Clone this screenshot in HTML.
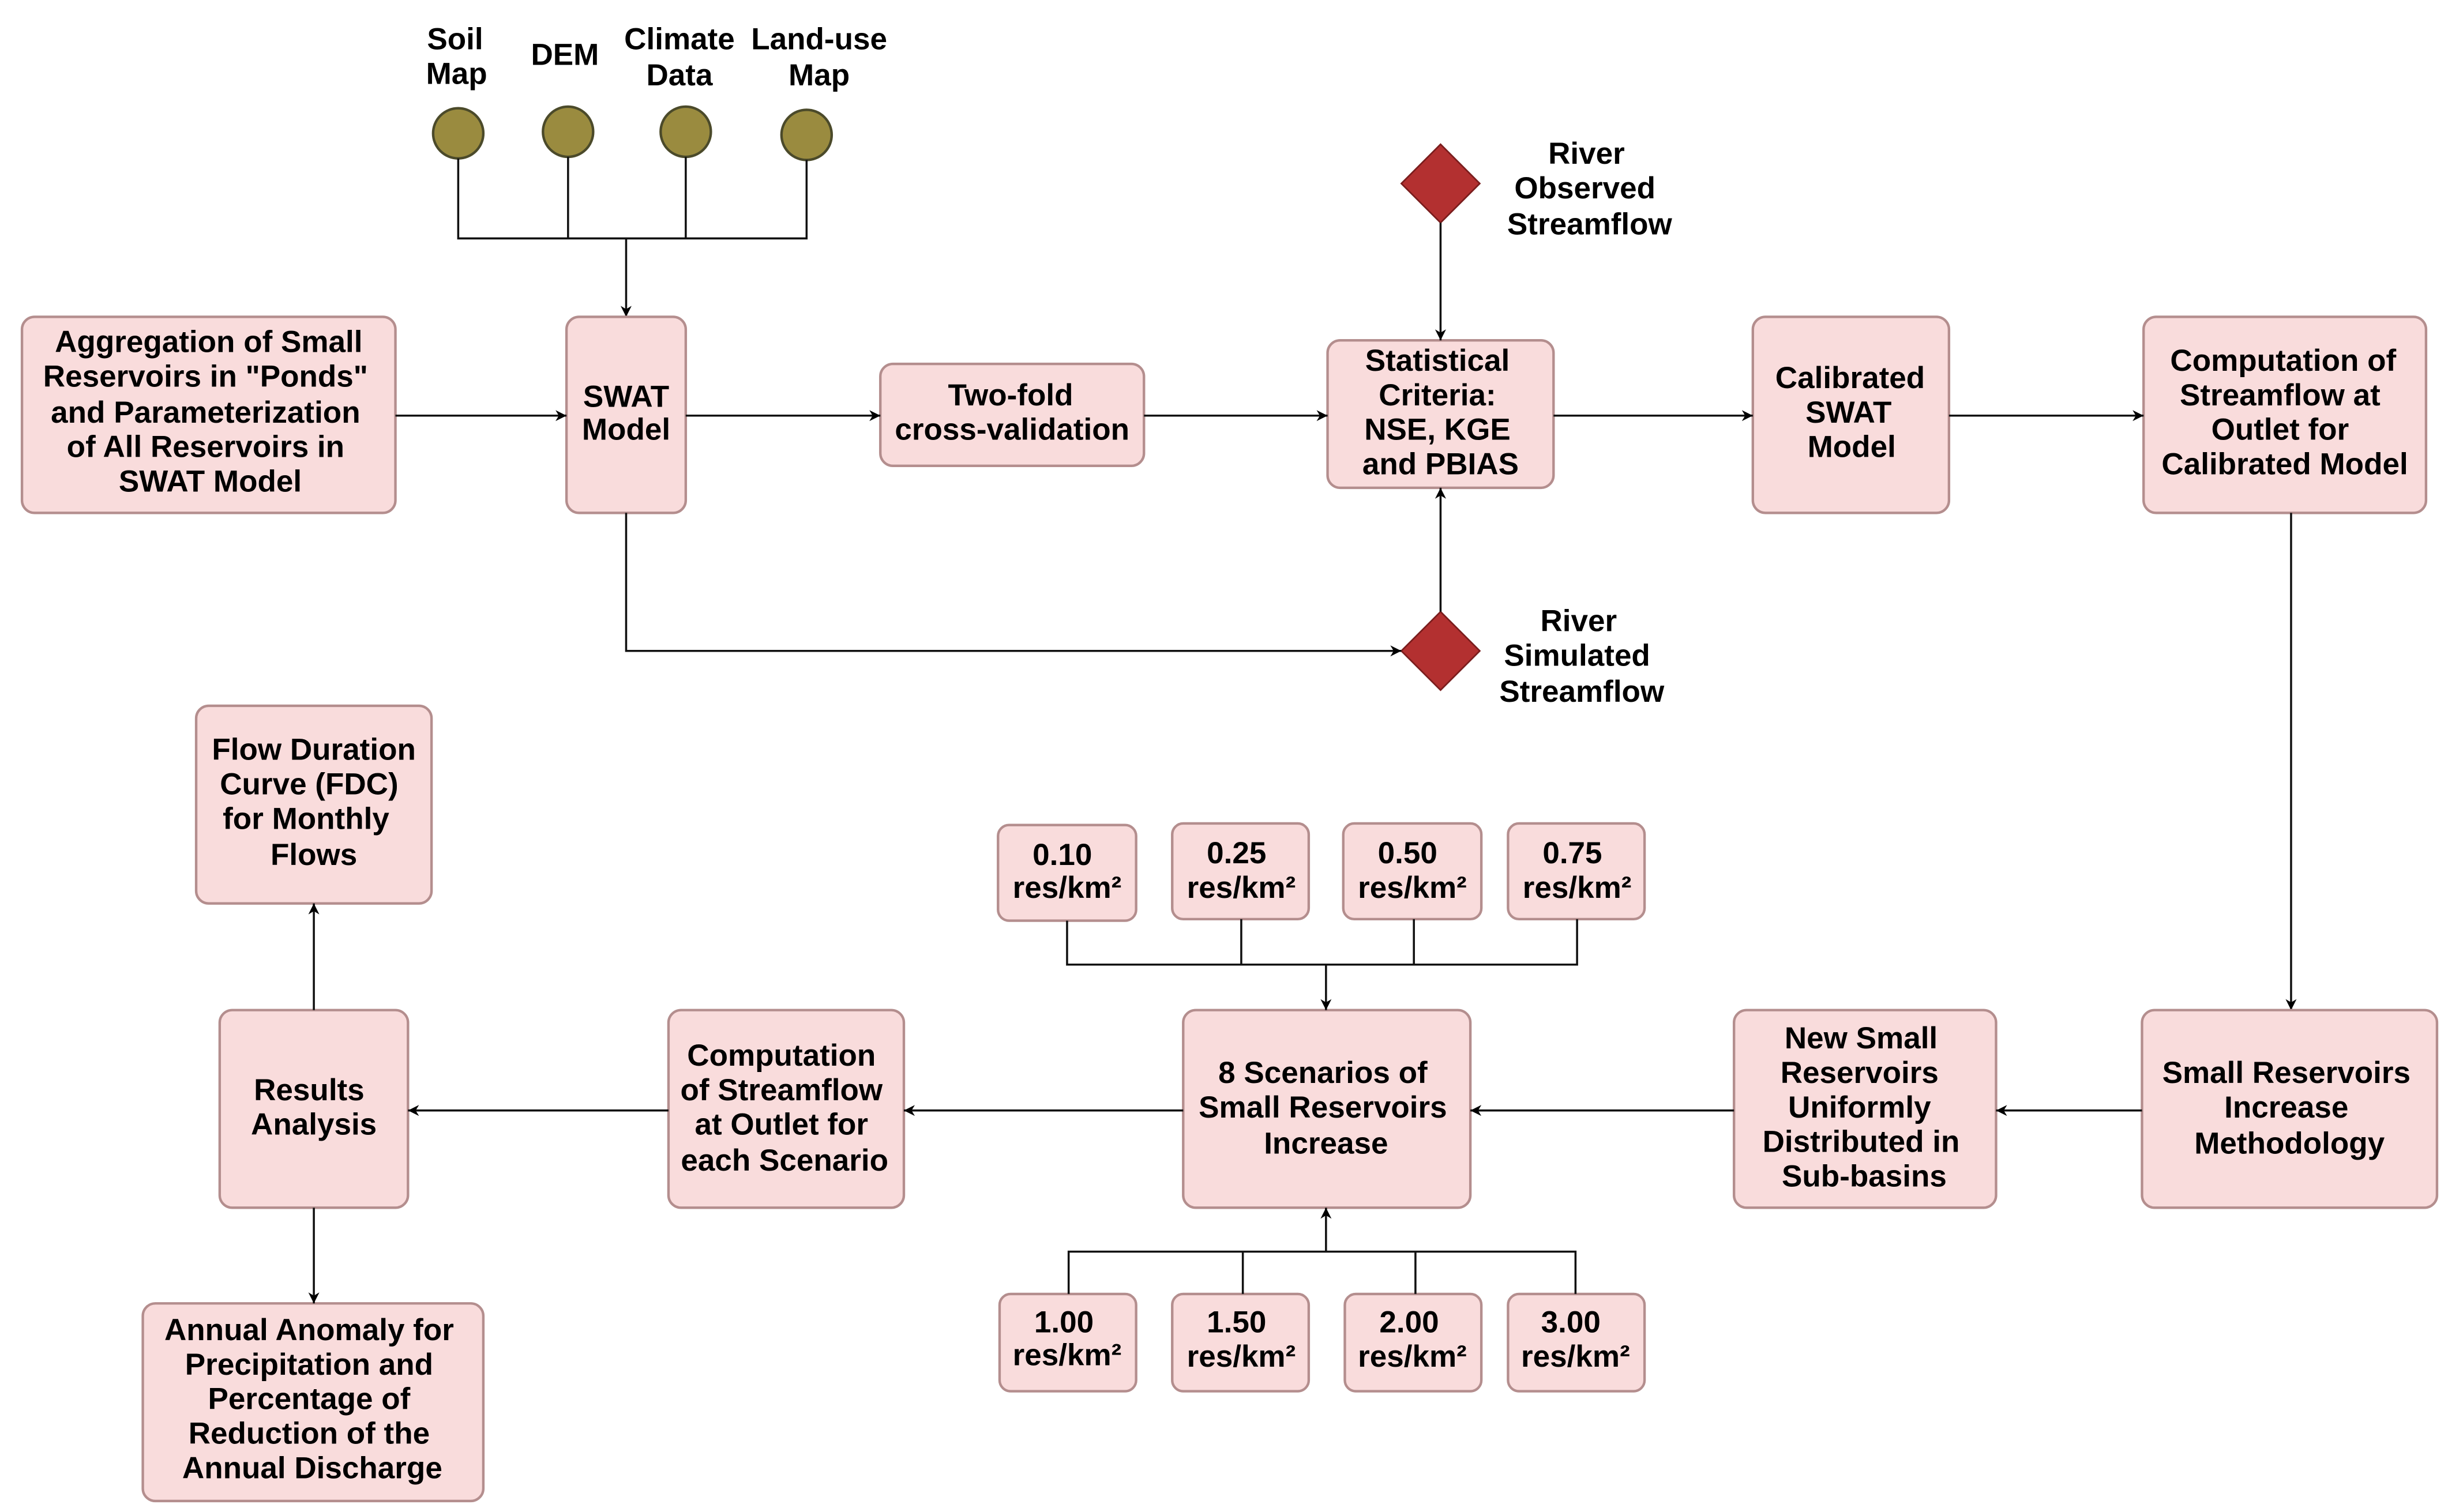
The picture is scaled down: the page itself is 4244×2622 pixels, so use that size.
<!DOCTYPE html>
<html><head><meta charset="utf-8"><style>
html,body{margin:0;padding:0;background:#fff;}
svg{display:block;}
text{font-family:"Liberation Sans",Arial,sans-serif;font-weight:bold;font-size:19.5px;fill:#000;text-anchor:middle;dominant-baseline:central;}
.b{fill:#f9dcdc;stroke:#b48e8e;stroke-width:1.6;}
.l{stroke:#111;stroke-width:1.3;fill:none;}
</style></head><body>
<svg width="4244" height="2622" viewBox="0 0 1560 964" preserveAspectRatio="none" xmlns="http://www.w3.org/2000/svg">
<defs><marker id="a" viewBox="0 0 10 10" refX="10" refY="5" markerWidth="7" markerHeight="7" orient="auto" markerUnits="userSpaceOnUse"><path d="M0,0 L10,5 L0,10 L3,5 z" fill="#000"/></marker></defs>

<!-- inputs -->
<text x="290" y="25">Soil</text><text x="291" y="47">Map</text>
<text x="360" y="35">DEM</text>
<text x="433" y="25">Climate</text><text x="433" y="48">Data</text>
<text x="522" y="25">Land-use</text><text x="522" y="48">Map</text>
<g fill="#9a8b3f" stroke="#4b4a2a" stroke-width="1.6">
<circle cx="292" cy="85" r="16"/><circle cx="362" cy="84" r="16"/><circle cx="437" cy="84" r="16"/><circle cx="514" cy="86" r="16"/></g>
<path class="l" d="M292,101V152H514V102M362,100V152M437,100V152"/>
<path class="l" d="M399,152V202" marker-end="url(#a)"/>

<!-- row 1 -->
<rect class="b" x="14" y="202" width="238" height="125" rx="8"/>
<text x="133" y="218">Aggregation of Small</text><text x="131" y="240">Reservoirs in "Ponds"</text><text x="131" y="263">and Parameterization</text><text x="131" y="285">of All Reservoirs in</text><text x="134" y="307">SWAT Model</text>
<rect class="b" x="361" y="202" width="76" height="125" rx="8"/>
<text x="399" y="253">SWAT</text><text x="399" y="274">Model</text>
<rect class="b" x="561" y="232" width="168" height="65" rx="8"/>
<text x="644" y="252">Two-fold</text><text x="645" y="274">cross-validation</text>
<rect class="b" x="846" y="217" width="144" height="94" rx="8"/>
<text x="916" y="230">Statistical</text><text x="916" y="252">Criteria:</text><text x="916" y="274">NSE, KGE</text><text x="918" y="296">and PBIAS</text>
<rect class="b" x="1117" y="202" width="125" height="125" rx="8"/>
<text x="1179" y="241">Calibrated</text><text x="1178" y="263">SWAT</text><text x="1180" y="285">Model</text>
<rect class="b" x="1366" y="202" width="180" height="125" rx="8"/>
<text x="1455" y="230">Computation of</text><text x="1453" y="252">Streamflow at</text><text x="1453" y="274">Outlet for</text><text x="1456" y="296">Calibrated Model</text>

<path class="l" d="M252,265H361" marker-end="url(#a)"/>
<path class="l" d="M437,265H561" marker-end="url(#a)"/>
<path class="l" d="M729,265H846" marker-end="url(#a)"/>
<path class="l" d="M990,265H1117" marker-end="url(#a)"/>
<path class="l" d="M1242,265H1366" marker-end="url(#a)"/>

<!-- diamonds -->
<polygon points="918,92 943,117 918,142 893,117" fill="#b33030" stroke="#7a1d1d" stroke-width="1"/>
<text x="1011" y="98">River</text><text x="1010" y="120">Observed</text><text x="1013" y="143">Streamflow</text>
<path class="l" d="M918,142V217" marker-end="url(#a)"/>
<polygon points="918,390 943,415 918,440 893,415" fill="#b33030" stroke="#7a1d1d" stroke-width="1"/>
<text x="1006" y="396">River</text><text x="1005" y="418">Simulated</text><text x="1008" y="441">Streamflow</text>
<path class="l" d="M918,390V311" marker-end="url(#a)"/>
<path class="l" d="M399,327V415H893" marker-end="url(#a)"/>

<path class="l" d="M1460,327V644" marker-end="url(#a)"/>

<!-- row 2 -->
<rect class="b" x="1365" y="644" width="188" height="126" rx="8"/>
<text x="1457" y="684">Small Reservoirs</text><text x="1457" y="706">Increase</text><text x="1459" y="729">Methodology</text>
<rect class="b" x="1105" y="644" width="167" height="126" rx="8"/>
<text x="1186" y="662">New Small</text><text x="1185" y="684">Reservoirs</text><text x="1185" y="706">Uniformly</text><text x="1186" y="728">Distributed in</text><text x="1188" y="750">Sub-basins</text>
<rect class="b" x="754" y="644" width="183" height="126" rx="8"/>
<text x="843" y="684">8 Scenarios of</text><text x="843" y="706">Small Reservoirs</text><text x="845" y="729">Increase</text>
<rect class="b" x="426" y="644" width="150" height="126" rx="8"/>
<text x="498" y="673">Computation</text><text x="498" y="695">of Streamflow</text><text x="498" y="717">at Outlet for</text><text x="500" y="740">each Scenario</text>
<rect class="b" x="140" y="644" width="120" height="126" rx="8"/>
<text x="197" y="695">Results</text><text x="200" y="717">Analysis</text>
<rect class="b" x="125" y="450" width="150" height="126" rx="8"/>
<text x="200" y="478">Flow Duration</text><text x="197" y="500">Curve (FDC)</text><text x="195" y="522">for Monthly</text><text x="200" y="545">Flows</text>
<rect class="b" x="91" y="831" width="217" height="126" rx="8"/>
<text x="197" y="848">Annual Anomaly for</text><text x="197" y="870">Precipitation and</text><text x="197" y="892">Percentage of</text><text x="197" y="914">Reduction of the</text><text x="199" y="936">Annual Discharge</text>

<path class="l" d="M1365,708H1272" marker-end="url(#a)"/>
<path class="l" d="M1105,708H937" marker-end="url(#a)"/>
<path class="l" d="M754,708H576" marker-end="url(#a)"/>
<path class="l" d="M426,708H260" marker-end="url(#a)"/>
<path class="l" d="M200,644V576" marker-end="url(#a)"/>
<path class="l" d="M200,770V831" marker-end="url(#a)"/>

<!-- small boxes top -->
<g>
<rect class="b" x="636" y="526" width="88" height="61" rx="7"/><text x="677" y="545">0.10</text><text x="680" y="566">res/km²</text>
<rect class="b" x="747" y="525" width="87" height="61" rx="7"/><text x="788" y="544">0.25</text><text x="791" y="566">res/km²</text>
<rect class="b" x="856" y="525" width="88" height="61" rx="7"/><text x="897" y="544">0.50</text><text x="900" y="566">res/km²</text>
<rect class="b" x="961" y="525" width="87" height="61" rx="7"/><text x="1002" y="544">0.75</text><text x="1005" y="566">res/km²</text>
</g>
<path class="l" d="M680,587V615H1005V586M791,586V615M901,586V615"/>
<path class="l" d="M845,615V644" marker-end="url(#a)"/>

<!-- small boxes bottom -->
<g>
<rect class="b" x="637" y="825" width="87" height="62" rx="7"/><text x="678" y="843">1.00</text><text x="680" y="864">res/km²</text>
<rect class="b" x="747" y="825" width="87" height="62" rx="7"/><text x="788" y="843">1.50</text><text x="791" y="865">res/km²</text>
<rect class="b" x="857" y="825" width="87" height="62" rx="7"/><text x="898" y="843">2.00</text><text x="900" y="865">res/km²</text>
<rect class="b" x="961" y="825" width="87" height="62" rx="7"/><text x="1001" y="843">3.00</text><text x="1004" y="865">res/km²</text>
</g>
<path class="l" d="M681,825V798H1004V825M792,825V798M902,825V798"/>
<path class="l" d="M845,798V770" marker-end="url(#a)"/>
</svg>
</body></html>
